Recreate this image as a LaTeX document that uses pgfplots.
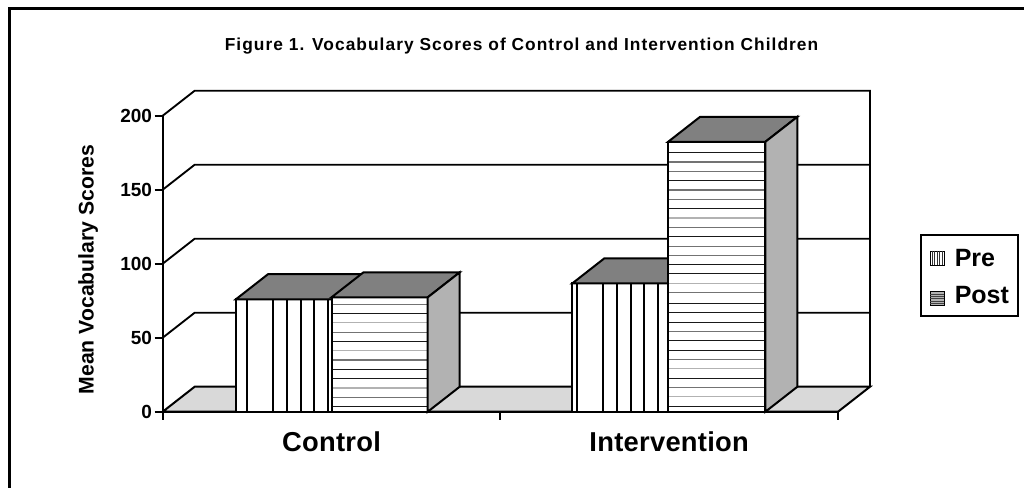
\documentclass[border=0pt]{standalone}
\usepackage{fontspec}
\setmainfont{Liberation Sans}
\usepackage{pgfplots}
\pgfplotsset{compat=1.18}
\definecolor{floorc}{HTML}{D9D9D9}
\definecolor{topc}{HTML}{808080}
\definecolor{sidec}{HTML}{B2B2B2}
\begin{document}
\begin{tikzpicture}
\path[use as bounding box,fill=white] (0,0) rectangle (768pt,-366pt);
\begin{axis}[
  at={(122.0pt,-308.8pt)},anchor=south west,
  scale only axis,width=506.5pt,height=222pt,
  xmin=0,xmax=2,ymin=0,ymax=200,clip=false,
  axis lines*=left,axis line style={-,line width=1.3pt,black},
  tick style={line width=1.3pt,black},
  major tick length=6pt,
  tick align=outside,
  xtick={0,1,2},xticklabels={},
  ytick={0,50,100,150,200},
  extra x ticks={0.5,1.5},
  extra x tick labels={Control,Intervention},
  extra x tick style={major tick length=0pt,
    tick label style={font=\bfseries\fontsize{20.5}{24}\addfontfeatures{LetterSpace=1}\selectfont,yshift=-11.5pt}},
  y tick label style={font=\bfseries\fontsize{14.25}{16}\selectfont,xshift=1.5pt},
  /pgf/number format/assume math mode=true,
  ylabel={Mean Vocabulary Scores},
  ylabel style={font=\bfseries\fontsize{15.9}{18}\selectfont,at={(axis description cs:-0.1105,0.48)},anchor=center,rotate=0},
  unbounded coords=jump,
]
% floor
\addplot[fill=floorc,draw=black,line width=1.5pt] coordinates {(0,0)(0.0948,16.9)(2.0948,16.9)(2,0)} -- cycle;
% back wall lines
\addplot[black,line width=1.4pt] coordinates {(0,50)(0.0948,66.9)(2.0948,66.9)};
\addplot[black,line width=1.4pt] coordinates {(0,100)(0.0948,116.9)(2.0948,116.9)};
\addplot[black,line width=1.4pt] coordinates {(0,150)(0.0948,166.9)(2.0948,166.9)};
\addplot[black,line width=1.4pt] coordinates {(0,200)(0.0948,216.9)(2.0948,216.9)(2.0948,16.9)};
% Control Pre
\addplot[fill=white,draw=black,line width=1.5pt] coordinates {(0.217,0)(0.217,76)(0.5,76)(0.5,0)} -- cycle;
\addplot[fill=topc,draw=black,line width=1.5pt] coordinates {(0.217,76)(0.3118,92.9)(0.5948,92.9)(0.5,76)} -- cycle;
\addplot[black,line width=1.4pt] coordinates {(0.2486,0)(0.2486,76)(0.2486,nan)(0.3256,0)(0.3256,76)(0.3256,nan)(0.367,0)(0.367,76)(0.367,nan)(0.4085,0)(0.4085,76)(0.4085,nan)(0.449,0)(0.449,76)(0.449,nan)(0.4904,0)(0.4904,76)};
% Control Post
\addplot[fill=white,draw=black,line width=1.5pt] coordinates {(0.5,0)(0.5,77.3)(0.785,77.3)(0.785,0)} -- cycle;
\addplot[black!90,line width=0.75pt] coordinates {(0.5,66.4)(0.785,66.4)(0.785,nan)(0.5,47.5)(0.785,47.5)(0.785,nan)(0.5,28.6)(0.785,28.6)(0.785,nan)(0.5,22.3)(0.785,22.3)(0.785,nan)(0.5,3.4)(0.785,3.4)};
\addplot[black!55,line width=0.9pt] coordinates {(0.5,72.5)(0.785,72.5)(0.785,nan)(0.5,53.8)(0.785,53.8)(0.785,nan)(0.5,34.9)(0.785,34.9)(0.785,nan)(0.5,9.7)(0.785,9.7)};
\addplot[black!30,line width=0.9pt] coordinates {(0.5,60.1)(0.785,60.1)(0.785,nan)(0.5,41.2)(0.785,41.2)(0.785,nan)(0.5,16)(0.785,16)};
\addplot[draw=black,line width=1.5pt] coordinates {(0.5,0)(0.5,77.3)(0.785,77.3)(0.785,0)} -- cycle;
\addplot[fill=topc,draw=black,line width=1.5pt] coordinates {(0.5,77.3)(0.5948,94.2)(0.8798,94.2)(0.785,77.3)} -- cycle;
\addplot[fill=sidec,draw=black,line width=1.5pt] coordinates {(0.785,0)(0.785,77.3)(0.8798,94.2)(0.8798,16.9)} -- cycle;
% Intervention Pre
\addplot[fill=white,draw=black,line width=1.5pt] coordinates {(1.213,0)(1.213,86.7)(1.497,86.7)(1.497,0)} -- cycle;
\addplot[fill=topc,draw=black,line width=1.5pt] coordinates {(1.213,86.7)(1.3078,103.6)(1.5918,103.6)(1.497,86.7)} -- cycle;
\addplot[black,line width=1.4pt] coordinates {(1.226,0)(1.226,86.7)(1.226,nan)(1.303,0)(1.303,86.7)(1.303,nan)(1.3445,0)(1.3445,86.7)(1.3445,nan)(1.386,0)(1.386,86.7)(1.386,nan)(1.4265,0)(1.4265,86.7)(1.4265,nan)(1.468,0)(1.468,86.7)};
% Intervention Post
\addplot[fill=white,draw=black,line width=1.5pt] coordinates {(1.497,0)(1.497,182.4)(1.785,182.4)(1.785,0)} -- cycle;
\addplot[black!90,line width=0.75pt] coordinates {(1.497,175)(1.785,175)(1.785,nan)(1.497,156.1)(1.785,156.1)(1.785,nan)(1.497,137.2)(1.785,137.2)(1.785,nan)(1.497,118.2)(1.785,118.2)(1.785,nan)(1.497,99.3)(1.785,99.3)(1.785,nan)(1.497,93.2)(1.785,93.2)(1.785,nan)(1.497,73.2)(1.785,73.2)(1.785,nan)(1.497,66.9)(1.785,66.9)(1.785,nan)(1.497,60.6)(1.785,60.6)(1.785,nan)(1.497,48)(1.785,48)(1.785,nan)(1.497,41.7)(1.785,41.7)(1.785,nan)(1.497,22.7)(1.785,22.7)(1.785,nan)(1.497,3.8)(1.785,3.8)};
\addplot[black!55,line width=0.9pt] coordinates {(1.497,168.7)(1.785,168.7)(1.785,nan)(1.497,162.4)(1.785,162.4)(1.785,nan)(1.497,149.8)(1.785,149.8)(1.785,nan)(1.497,143.5)(1.785,143.5)(1.785,nan)(1.497,124.5)(1.785,124.5)(1.785,nan)(1.497,111.9)(1.785,111.9)(1.785,nan)(1.497,105.6)(1.785,105.6)(1.785,nan)(1.497,80.4)(1.785,80.4)(1.785,nan)(1.497,54.3)(1.785,54.3)(1.785,nan)(1.497,35.4)(1.785,35.4)(1.785,nan)(1.497,16.4)(1.785,16.4)};
\addplot[black!30,line width=0.9pt] coordinates {(1.497,130.9)(1.785,130.9)(1.785,nan)(1.497,86.7)(1.785,86.7)(1.785,nan)(1.497,29)(1.785,29)(1.785,nan)(1.497,10.1)(1.785,10.1)};
\addplot[draw=black,line width=1.5pt] coordinates {(1.497,0)(1.497,182.4)(1.785,182.4)(1.785,0)} -- cycle;
\addplot[fill=topc,draw=black,line width=1.5pt] coordinates {(1.497,182.4)(1.5918,199.3)(1.8798,199.3)(1.785,182.4)} -- cycle;
\addplot[fill=sidec,draw=black,line width=1.5pt] coordinates {(1.785,0)(1.785,182.4)(1.8798,199.3)(1.8798,16.9)} -- cycle;
% base line on top
\addplot[black,line width=1.5pt] coordinates {(0,0)(2,0)};
\end{axis}
\begin{scope}[x=0.75pt,y=-0.75pt]
\draw[line width=2.2pt,line cap=rect] (1024,8.7) -- (9.5,8.7) -- (9.5,488);
\node[font=\bfseries\fontsize{13}{15}\selectfont] at (521.5,46) {\addfontfeatures{LetterSpace=6}Figure 1. Vocabulary Scores of Control and Intervention Children};
% legend
\draw[line width=1.6pt] (920.7,235) rectangle (1017.7,316);
\node[anchor=base west,font=\bfseries\fontsize{18.75}{22}\selectfont,inner sep=0pt] at (954.5,266.5) {Pre};
\node[anchor=base west,font=\bfseries\fontsize{18.75}{22}\selectfont,inner sep=0pt] at (954.5,303.5) {Post};
\draw[line width=0.5pt,fill=white] (930,251) rectangle (944.3,265);
\foreach \x in {932.4,934.8,937.2,939.6,942}{\draw[line width=0.5pt,black!80] (\x,251)--(\x,265);}
\draw[line width=0.5pt,fill=black!30] (930,291.7) rectangle (944.3,305);
\foreach \y in {294,296.3,298.6,300.9,303.2}{\draw[line width=0.6pt,black!75] (930,\y)--(944.3,\y);}
\end{scope}
\end{tikzpicture}
\end{document}
